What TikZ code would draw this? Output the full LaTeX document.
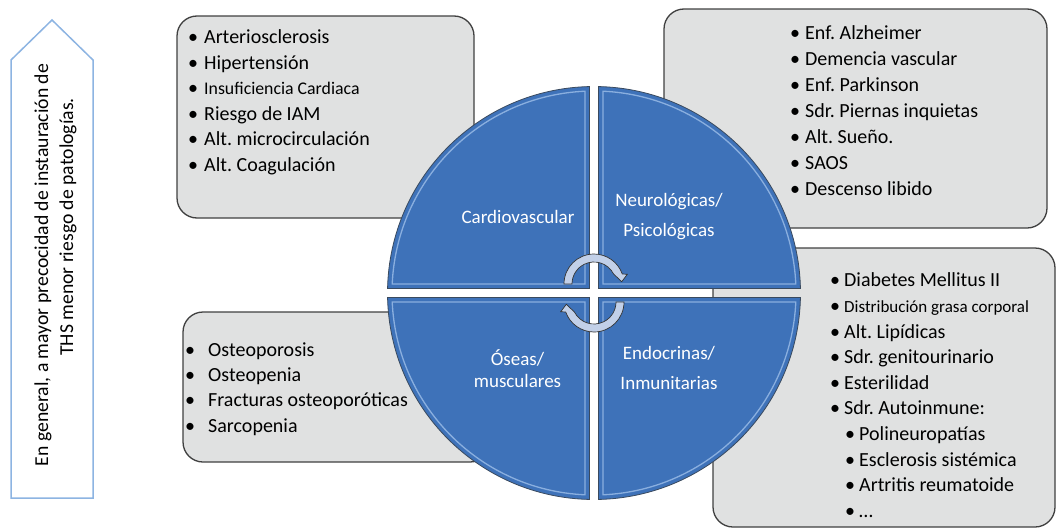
\documentclass[tikz,border=0pt]{standalone}
\usepackage{fontspec}
\setmainfont{Carlito}
\frenchspacing
\usetikzlibrary{calc}
\definecolor{quad blue}{HTML}{3E72B9}
\definecolor{quad edge}{HTML}{3A4A5E}
\definecolor{quad light}{HTML}{A4C4EC}
\definecolor{box fill}{HTML}{E0E1E1}
\definecolor{box edge}{HTML}{404040}
\definecolor{lead edge}{HTML}{8DB4E2}
\definecolor{cycle fill}{HTML}{C2D0E8}
% Bullet centred on the line start, then a gap before the item text
\newcommand{\itembul}[1]{\makebox[0pt]{\textbullet}\hspace*{#1}}
% Second level item, indented below the first level bullets
\newcommand{\subbul}{\hspace*{15pt}\itembul{9pt}}
\tikzset{
    % Lists in the grey boxes
    list/.style={anchor=west, align=left, inner sep=0,
        font=\fontsize{20}{25.6}\selectfont},
}

\begin{document}
\begin{tikzpicture}[
    x=1pt, y=-1pt,
    list box/.style={draw=box edge, fill=box fill, line width=1.3pt, rounded corners=20pt},
    lead arrow/.style={draw=lead edge, fill=white, line width=1.5pt},
    lead text/.style={rotate=90, inner sep=0, font=\fontsize{19.7}{25}\selectfont},
    quadrant/.style={fill=quad blue, draw=quad edge, line width=0.8pt},
    bevel/.style={draw=quad light, line width=1.3pt, opacity=0.75},
    sector label/.style={align=center, text=white, inner sep=0},
    cycle arrow/.style={fill=cycle fill, draw=black!80, line width=0.7pt},
    ]

\useasboundingbox (0,0) rectangle (1056,530);

% Upward arrow with the general remark
\draw [lead arrow] (11,498) -- (11,60) -- (52,20) -- (93,60) -- (93,498) -- cycle;
\node [lead text] (lead a) at (43,265) {En general, a mayor precocidad de instauración de};
\node [lead text] (lead b) at (68,227) {THS menor riesgo de patologías.};

% Grey boxes, partly hidden by the circle
\draw [list box] (177,16) rectangle (474,218);
\draw [list box] (664,9) rectangle (1047,228);
\draw [list box] (713,248) rectangle (1055,527);
\draw [list box] (183,312) rectangle (490,462);

\node [list] (cardio list) at (193,102.2) {
    \itembul{11pt}Arteriosclerosis\\
    \itembul{11pt}Hipertensión\\
    \itembul{11pt}{\fontsize{17.8}{25.6}\selectfont Insuficiencia Cardiaca}\\
    \itembul{11pt}Riesgo de IAM\\
    \itembul{11pt}Alt. microcirculación\\
    \itembul{11pt}Alt. Coagulación};

\node [list, font=\fontsize{20}{26}\selectfont] (neuro list) at (795,110.3) {
    \itembul{10pt}Enf. Alzheimer\\
    \itembul{10pt}Demencia vascular\\
    \itembul{10pt}Enf. Parkinson\\
    \itembul{10pt}Sdr. Piernas inquietas\\
    \itembul{10pt}Alt. Sueño.\\
    \itembul{10pt}SAOS\\
    \itembul{10pt}Descenso libido};

\node [list] (endo list) at (835,395.3) {
    \itembul{9pt}Diabetes Mellitus II\\
    \itembul{9pt}{\fontsize{17}{25.6}\selectfont Distribución grasa corporal}\\
    \itembul{9pt}Alt. Lipídicas\\
    \itembul{9pt}Sdr. genitourinario\\
    \itembul{9pt}Esterilidad\\
    \itembul{9pt}Sdr. Autoinmune:\\
    \subbul Polineuropatías\\
    \subbul Esclerosis sistémica\\
    \subbul Artritis reumatoide\\
    \subbul\dots};

\node [list, font=\fontsize{20}{25.3}\selectfont] (bone list) at (190,389) {
    \itembul{18pt}Osteoporosis\\
    \itembul{18pt}Osteopenia\\
    \itembul{18pt}Fracturas osteoporóticas\\
    \itembul{18pt}Sarcopenia};

% Circle cut into four quadrants
\pgfmathsetmacro{\rad}{206.5}
\pgfmathsetmacro{\gap}{4.5}
\pgfmathsetmacro{\gapang}{asin(\gap/\rad)}
\pgfmathsetmacro{\inrad}{\rad-4.5}
\pgfmathsetmacro{\ingap}{\gap+4.5}
\pgfmathsetmacro{\ingapang}{asin(\ingap/\inrad)}
\begin{scope}[shift={(594,293)}]
\foreach \r in {0,90,180,270} {
    \path [quadrant, rotate=\r] (\gap,\gap) -- ({90-\gapang}:\rad)
        arc [start angle=90-\gapang, end angle=\gapang, radius=\rad] -- cycle;
    \path [bevel, rotate=\r] (\ingap,\ingap) -- ({90-\ingapang}:\inrad)
        arc [start angle=90-\ingapang, end angle=\ingapang, radius=\inrad] -- cycle;
}
\end{scope}

\node [sector label, font=\fontsize{19}{30}\selectfont] (cardio) at (518,216.7) {Cardiovascular};
\node [sector label, font=\fontsize{19}{30}\selectfont] (neuro) at (669,216.7) {Neurológicas/\\Psicológicas};
\node [sector label, font=\fontsize{19}{22}\selectfont] (bone) at (517.5,369) {Óseas/\\musculares};
\node [sector label, font=\fontsize{19}{30}\selectfont] (endo) at (669,368) {Endocrinas/\\Inmunitarias};

% Two turning arrows in the middle
\foreach \cy/\r in {284/0, 302/180} {
    \path [cycle arrow, shift={(594,\cy)}, rotate=\r] (180:30)
        arc [start angle=180, end angle=340.5, radius=30]
        -- (33.3,-9.7) -- (27.7,-2.3) -- (333:22)
        arc [start angle=333, end angle=180, radius=22] -- cycle;
}

\end{tikzpicture}
\end{document}
